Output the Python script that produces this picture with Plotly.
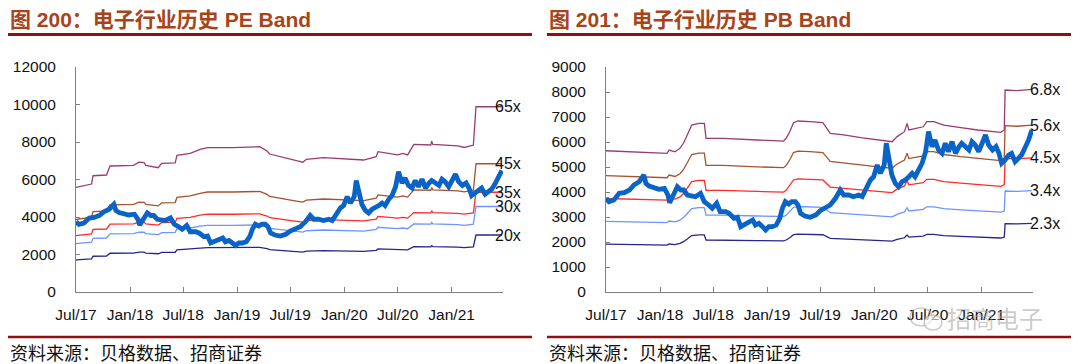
import plotly.graph_objects as go

# ---------------- data ----------------
idx_dates = ["2017-07-01","2017-07-11","2017-07-28","2017-08-15","2017-09-01","2017-09-19","2017-10-04","2017-10-22",
"2017-11-07","2017-11-14","2017-11-25","2017-12-13","2017-12-28","2018-01-16","2018-01-28","2018-02-03","2018-02-12",
"2018-03-01","2018-03-13","2018-03-23","2018-04-04","2018-04-16","2018-05-02","2018-05-19","2018-06-01","2018-06-16",
"2018-06-28","2018-07-13","2018-07-25","2018-08-13","2018-08-24","2018-09-10","2018-09-22","2018-10-03","2018-10-13",
"2018-11-01","2018-11-13","2018-11-22","2018-12-04","2018-12-16","2018-12-27","2019-01-07","2019-01-19","2019-02-01",
"2019-02-13","2019-02-22","2019-03-04","2019-03-16","2019-03-26","2019-04-07","2019-04-16","2019-04-25","2019-05-10",
"2019-05-28","2019-06-16","2019-07-01","2019-07-17","2019-08-04","2019-08-22","2019-09-07","2019-09-19","2019-10-06",
"2019-10-22","2019-11-09","2019-11-21","2019-12-07","2019-12-19","2019-12-30","2020-01-11","2020-01-22","2020-02-04",
"2020-02-11","2020-02-20","2020-03-01","2020-03-13","2020-03-24","2020-04-05","2020-04-16","2020-04-28","2020-05-09",
"2020-05-19","2020-06-01","2020-06-12","2020-06-24","2020-07-04","2020-07-16","2020-07-26","2020-08-07","2020-08-19",
"2020-08-30","2020-09-10","2020-09-22","2020-10-04","2020-10-16","2020-10-25","2020-11-07","2020-11-19","2020-11-29",
"2020-12-10","2020-12-22","2021-01-04","2021-01-14","2021-01-25","2021-02-07","2021-02-19","2021-03-01","2021-03-10",
"2021-03-22","2021-04-03","2021-04-13","2021-04-25","2021-05-07","2021-05-17","2021-05-28","2021-06-10","2021-06-21"]
idx_vals = [3750,3613,3680,3947,3973,4080,4280,4413,
4680,4347,4240,4187,4107,4147,3880,3573,3813,
4213,4080,4080,3880,3840,3813,3947,3613,3480,
3347,3547,3213,3213,3147,2947,2987,2613,2680,
2813,2880,2680,2747,2613,2480,2613,2613,2680,
2947,3347,3613,3520,3613,3613,3480,3147,3040,
2987,3080,3250,3347,3480,3747,4080,3880,3880,
3813,3880,3813,4213,4480,4613,5080,4747,5080,
5950,5280,4680,4347,4213,4413,4480,4613,4747,
4613,4947,5147,5613,6413,5813,6080,5680,5547,
5947,5613,6013,5547,5813,5947,5813,5680,6013,
5880,5613,5947,6280,5880,5680,5813,5547,5147,
5280,5480,5547,5213,5347,5480,5747,6080,6480]

# index-level earnings per share (PE band base)
eps_dates = ["2017-07-01","2017-08-07","2017-08-23","2017-08-28","2017-10-13","2017-10-25","2018-01-13","2018-02-01",
"2018-02-18","2018-02-24","2018-04-07","2018-04-19","2018-06-04","2018-06-10","2018-07-25","2018-08-28","2018-09-22",
"2018-12-19","2019-03-19","2019-04-13","2019-04-22","2019-07-22","2019-08-13","2019-08-25","2019-10-22","2020-03-07",
"2020-04-19","2020-04-25","2020-07-01","2020-07-19","2020-08-04","2020-08-25","2020-10-22","2020-10-25","2020-10-29",
"2021-01-22","2021-02-13","2021-03-16","2021-03-25","2021-06-21"]
eps_vals = [85.9,87.4,88.6,95.4,96.0,103.4,103.9,106.6,
106.2,103.9,102.0,105.6,106.0,112.2,113.8,117.0,118.5,
118.5,119.2,115.7,113.2,107.7,106.5,108.9,110.2,108.3,
111.1,115.1,112.5,113.8,112.5,121.1,120.6,123.8,121.1,
119.9,118.6,120.6,152.0,152.0]
pe_multiples = [65, 45, 35, 30, 20]
pe_labels = ["65x", "45x", "35x", "30x", "20x"]

# index-level book value per share (PB band base)
bps_dates = ["2017-07-01","2017-10-01","2018-01-25","2018-02-01","2018-02-21","2018-03-10","2018-03-22","2018-04-04",
"2018-04-19","2018-05-13","2018-06-01","2018-06-07","2018-08-04","2018-11-28","2019-02-26","2019-03-07","2019-03-19",
"2019-04-01","2019-04-16","2019-05-28","2019-07-10","2019-08-04","2019-09-19","2019-11-16","2020-01-13","2020-03-02",
"2020-03-19","2020-04-13","2020-04-22","2020-04-28","2020-06-16","2020-06-28","2020-07-22","2020-08-25","2020-10-22",
"2020-12-19","2021-03-07","2021-03-19","2021-03-22","2021-05-01","2021-06-21"]
bps_vals = [831,825,816,835,825,845,875,923,
982,992,992,904,904,894,888,904,943,
996,1006,1002,996,933,924,908,894,884,
914,943,992,953,972,1002,1002,982,967,
953,939,953,1188,1184,1192]
pb_multiples = [6.8, 5.6, 4.5, 3.4, 2.3]
pb_labels = ["6.8x", "5.6x", "4.5x", "3.4x", "2.3x"]

band_colors = ["#9B3C6E", "#A5522E", "#FF2B2B", "#6E95FF", "#26268C"]
index_color = "#0A64C8"

x_ticks = ["2017-07-01","2018-01-01","2018-07-01","2019-01-01","2019-07-01","2020-01-01","2020-07-01","2021-01-01"]
x_ticklabels = ["Jul/17","Jan/18","Jul/18","Jan/19","Jul/19","Jan/20","Jul/20","Jan/21"]

titles = ["图 200：电子行业历史 PE Band", "图 201：电子行业历史 PB Band"]
source = "资料来源：贝格数据、招商证券"

# ---------------- figure ----------------
W, H = 1080, 364
def px(x): return x / W
def py(y): return 1 - y / H

fig = go.Figure()

for m, c in zip(pe_multiples, band_colors):
    fig.add_trace(go.Scatter(x=eps_dates, y=[m * v for v in eps_vals], mode="lines",
                             line=dict(color=c, width=1.3), xaxis="x", yaxis="y",
                             showlegend=False, hoverinfo="skip"))
fig.add_trace(go.Scatter(x=idx_dates, y=idx_vals, mode="lines",
                         line=dict(color=index_color, width=4.8), xaxis="x", yaxis="y",
                         showlegend=False))

for m, c in zip(pb_multiples, band_colors):
    fig.add_trace(go.Scatter(x=bps_dates, y=[m * v for v in bps_vals], mode="lines",
                             line=dict(color=c, width=1.3), xaxis="x2", yaxis="y2",
                             showlegend=False, hoverinfo="skip"))
fig.add_trace(go.Scatter(x=idx_dates, y=idx_vals, mode="lines",
                         line=dict(color=index_color, width=4.8), xaxis="x2", yaxis="y2",
                         showlegend=False))

tickfont = dict(family="Liberation Sans, Arial, sans-serif", size=15.5, color="#111111")
xcommon = dict(type="date", range=["2017-07-01", "2021-06-25"], tickmode="array",
               tickvals=x_ticks, ticktext=x_ticklabels, showline=True, linecolor="#808080",
               linewidth=1, ticks="inside", ticklen=5, tickcolor="#808080", showgrid=False,
               zeroline=False, tickfont=tickfont, ticklabelstandoff=8, automargin=False)
ycommon = dict(showline=True, linecolor="#808080", linewidth=1, ticks="inside", ticklen=4,
               tickcolor="#808080", showgrid=False, zeroline=False, tickfont=tickfont,
               ticklabelstandoff=16, tickformat="d", automargin=False)

ydom = [py(292), py(67)]
fig.update_layout(
    width=W, height=H, autosize=False,
    margin=dict(l=0, r=0, t=0, b=0, pad=0),
    paper_bgcolor="white", plot_bgcolor="white",
    xaxis=dict(domain=[px(76), px(503)], anchor="y", **xcommon),
    yaxis=dict(domain=ydom, anchor="x", range=[0, 12000], dtick=2000, **ycommon),
    xaxis2=dict(domain=[px(606), px(1033)], anchor="y2", **xcommon),
    yaxis2=dict(domain=ydom, anchor="x2", range=[0, 9000], dtick=1000, **ycommon),
)

ann = []
lblfont = dict(family="Liberation Sans, Arial, sans-serif", size=16, color="#111111")
for lab, m in zip(pe_labels, pe_multiples):
    ann.append(dict(text=lab, x=px(493), xref="paper", y=m * eps_vals[-1], yref="y",
                    xanchor="left", yanchor="middle", showarrow=False, font=lblfont))
for lab, m in zip(pb_labels, pb_multiples):
    ann.append(dict(text=lab, x=px(1028), xref="paper", y=m * bps_vals[-1], yref="y2",
                    xanchor="left", yanchor="middle", showarrow=False, font=lblfont))

title_font = dict(family="Liberation Sans, Noto Sans CJK SC, sans-serif", size=21, color="#A8441A")
for t, x0 in zip(titles, [8, 547]):
    ann.append(dict(text="<b>" + t + "</b>", x=px(x0), y=py(19), xref="paper", yref="paper",
                    xanchor="left", yanchor="middle", showarrow=False, font=title_font))
src_font = dict(family="Noto Sans CJK SC, sans-serif", size=18, color="#111111")
for x0 in [8, 547]:
    ann.append(dict(text=source, x=px(x0), y=py(352), xref="paper", yref="paper",
                    xanchor="left", yanchor="middle", showarrow=False, font=src_font))
# watermark
ann.append(dict(text="招商电子", x=px(1045), y=py(317), xref="paper", yref="paper",
                xanchor="right", yanchor="middle", showarrow=False,
                font=dict(family="Noto Sans CJK SC, sans-serif", size=24, color="rgba(160,160,160,0.55)")))

shapes = []
for x0, x1 in [(8, 532), (547, 1071)]:
    shapes.append(dict(type="line", xref="paper", yref="paper", x0=px(x0), x1=px(x1),
                       y0=py(34.5), y1=py(34.5), line=dict(color="#8E1010", width=3)))
    shapes.append(dict(type="line", xref="paper", yref="paper", x0=px(x0), x1=px(x1),
                       y0=py(337), y1=py(337), line=dict(color="#8E1010", width=2.5)))
# watermark icon (two speech bubbles)
shapes.append(dict(type="circle", xref="paper", yref="paper", x0=px(910), x1=px(932),
                   y0=py(326), y1=py(308), line=dict(color="rgba(160,160,160,0.55)", width=1.5)))
shapes.append(dict(type="circle", xref="paper", yref="paper", x0=px(924), x1=px(942),
                   y0=py(330), y1=py(315), line=dict(color="rgba(160,160,160,0.55)", width=1.5),
                   fillcolor="rgba(255,255,255,0.6)"))

fig.update_layout(annotations=ann, shapes=shapes)
fig.write_html("out.html", config={"displayModeBar": False},
               post_script="document.body.style.margin='0px';")
